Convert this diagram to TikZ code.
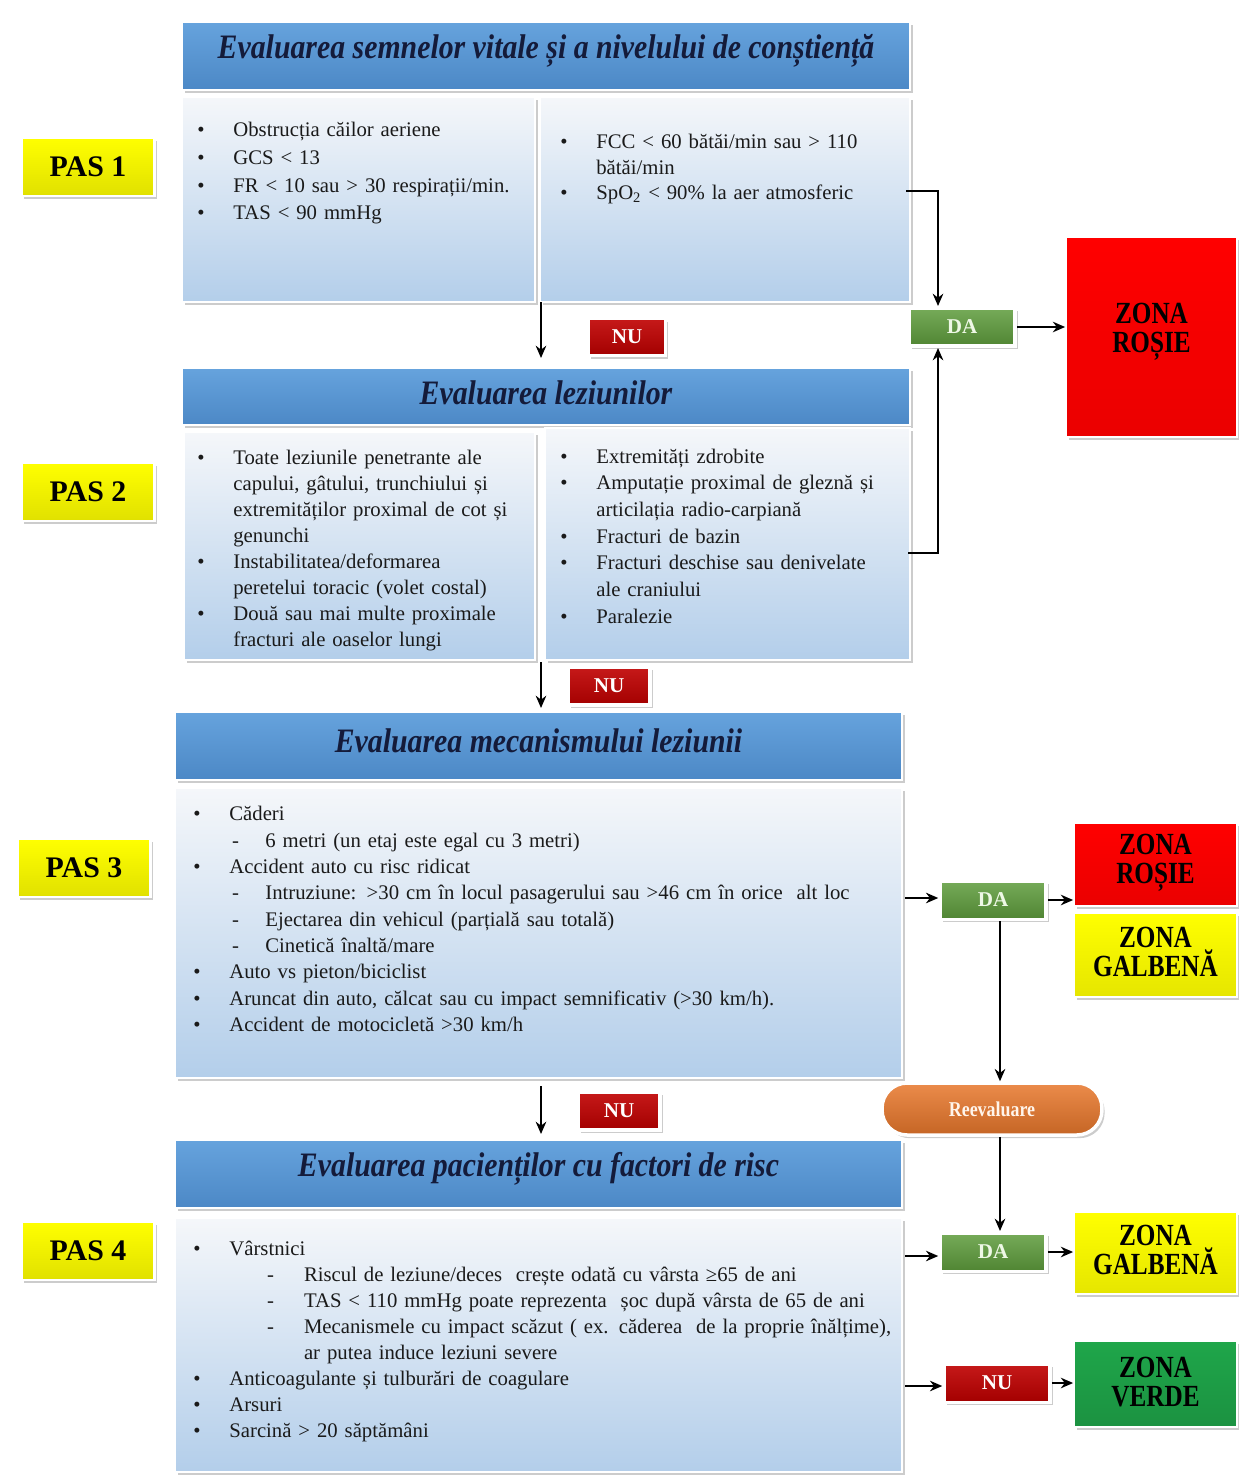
\documentclass[tikz,border=0pt]{standalone}
\usepackage{fontspec}
\setmainfont{Liberation Serif}
\usetikzlibrary{fit,shadows,arrows.meta,calc}
\definecolor{boxtop}{HTML}{F5F7FA}
\definecolor{boxbot}{HTML}{B3CEEA}
\definecolor{hdrtop}{HTML}{66A3DD}
\definecolor{hdrbot}{HTML}{4C88C6}
\definecolor{titlecol}{HTML}{141B3A}
\definecolor{bodycol}{HTML}{1A1A1A}
\definecolor{dagreen}{HTML}{5E9C3C}
\definecolor{dalight}{HTML}{EEF8E6}
\definecolor{nured}{HTML}{C00000}
\definecolor{zred}{HTML}{FF0000}
\definecolor{zyellow}{HTML}{FFFF00}
\definecolor{zgreen}{HTML}{1FA64A}
\definecolor{reevor}{HTML}{E8772B}
\newcommand{\bl}[1]{\par\noindent\hangindent=20.5pt\hangafter=1\rule{0pt}{10pt}\makebox[20.5pt][l]{\textbullet}#1}
\newcommand{\dl}[3]{\par\noindent\hangindent=#2\hangafter=1\rule{0pt}{10pt}\hspace*{#1}\makebox[\dimexpr#2-#1\relax][l]{-}#3}
\newcommand{\cz}[1]{\scalebox{0.82}[1]{#1}}
\newcommand{\czb}[1]{\raisebox{0pt}[\height][0pt]{\scalebox{0.82}[1]{#1}}}
\newcommand{\ttl}[1]{\scalebox{0.87}[1]{#1}}
\begin{document}
\begin{tikzpicture}[x=0.02cm,y=-0.02cm,
  shd/.style={drop shadow={opacity=0.4,shadow xshift=1.5pt,shadow yshift=-1.8pt}},
  lbox/.style={shd,draw=white,line width=1.5pt,top color=boxtop,bottom color=boxbot,inner sep=0pt},
  hdr/.style={shd,draw=white,line width=1.5pt,top color=hdrtop,bottom color=hdrbot,inner sep=0pt},
  htext/.style={font=\fontsize{19.5}{22}\selectfont\bfseries\itshape,text=titlecol,inner sep=0pt},
  ltext/.style={anchor=north west,inner sep=0pt,text width=18cm,align=left,font=\fontsize{11.8}{14.8}\selectfont,text=bodycol},
  pas/.style={shd,draw=white,line width=1.5pt,top color=zyellow,bottom color=zyellow!88!black,minimum width=2.66cm,minimum height=1.16cm,font=\fontsize{17}{20}\selectfont\bfseries,inner sep=0pt},
  tag/.style={shd,draw=white,line width=2pt,minimum width=2.12cm,minimum height=0.77cm,font=\fontsize{12}{14}\selectfont\bfseries,inner sep=0pt},
  da/.style={tag,top color=dagreen!85!white,bottom color=dagreen!85!black,text=dalight},
  nu/.style={tag,top color=nured!90!white,bottom color=nured!85!black,text=white},
  zone/.style={shd,draw=white,line width=1pt,inner sep=0pt},
  ztext/.style={inner sep=0pt,align=center,font=\fontsize{17.5}{16.5}\selectfont\bfseries,text=black},
  arr/.style={-{Stealth[length=7pt,width=6pt]},line width=1.1pt}]
\useasboundingbox (0,0) rectangle (1238,1478);

% ---------- PAS 1 ----------
\node[hdr,fit={(182,22)(910,90)}] (h1) {};
\node[htext] (t1) at ([yshift=3pt]h1.center) {\ttl{Evaluarea semnelor vitale și a nivelului de conștiență}};
\node[lbox,fit={(182,97)(535,302)}] (b1L) {};
\node[lbox,fit={(540,97)(910,302)}] (b1R) {};
\node[ltext,font=\fontsize{11.8}{15.7}\selectfont] (x1L) at (197,109) {%
\bl{Obstrucția căilor aeriene}
\bl{GCS < 13}
\bl{FR < 10 sau > 30 respirații/min.}
\bl{TAS < 90 mmHg}\par};
\node[ltext,font=\fontsize{11.8}{14.5}\selectfont] (x1R) at (560,123) {%
\bl{FCC < 60 bătăi/min sau > 110\newline bătăi/min}
\bl{\rule{0pt}{12pt}SpO\textsubscript{2} < 90\% la aer atmosferic}\par};
\node[pas] (p1) at (88,167) {PAS 1};

% ---------- PAS 2 ----------
\node[hdr,fit={(182,368)(910,425)}] (h2) {};
\node[htext] (t2) at ([yshift=2pt]h2.center) {\ttl{Evaluarea leziunilor}};
\node[lbox,fit={(184,432)(535,660)}] (b2L) {};
\node[lbox,fit={(545,428)(910,660)}] (b2R) {};
\node[ltext] (x2L) at (197,438) {%
\bl{Toate leziunile penetrante ale\newline capului, gâtului, trunchiului și\newline extremităților proximal de cot și\newline genunchi}
\bl{Instabilitatea/deformarea\newline peretelui toracic (volet costal)}
\bl{Două sau mai multe proximale\newline fracturi ale oaselor lungi}\par};
\node[ltext,font=\fontsize{11.8}{15.2}\selectfont] (x2R) at (560,436) {%
\bl{Extremități zdrobite}
\bl{Amputație proximal de gleznă și\newline articilația radio-carpiană}
\bl{Fracturi de bazin}
\bl{Fracturi deschise sau denivelate\newline ale craniului}
\bl{Paralezie}\par};
\node[pas] (p2) at (88,492) {PAS 2};

% ---------- PAS 3 ----------
\node[hdr,fit={(175,712)(902,780)}] (h3) {};
\node[htext] (t3) at ([yshift=3pt]h3.center) {\ttl{Evaluarea mecanismului leziunii}};
\node[lbox,fit={(175,788)(902,1078)}] (b3) {};
\node[ltext,font=\fontsize{11.8}{15}\selectfont] (x3) at (193,794) {%
\bl{Căderi}
\dl{22pt}{41pt}{6 metri (un etaj este egal cu 3 metri)}
\bl{Accident auto cu risc ridicat}
\dl{22pt}{41pt}{Intruziune: >30 cm în locul pasagerului sau >46 cm în orice\ \ alt loc}
\dl{22pt}{41pt}{Ejectarea\ din vehicul (parțială sau totală)}
\dl{22pt}{41pt}{Cinetică înaltă/mare}
\bl{Auto vs pieton/biciclist}
\bl{Aruncat din auto, călcat sau cu impact semnificativ (>30 km/h).}
\bl{Accident de motocicletă >30 km/h}\par};
\node[pas] (p3) at (84,868) {PAS 3};

% ---------- PAS 4 ----------
\node[hdr,fit={(175,1140)(902,1208)}] (h4) {};
\node[htext] (t4) at ([yshift=3pt]h4.center) {\ttl{Evaluarea pacienților cu factori de risc}};
\node[lbox,fit={(175,1218)(902,1472)}] (b4) {};
\node[ltext] (x4) at (193,1229) {%
\bl{Vârstnici}
\dl{42pt}{63pt}{Riscul de leziune/deces\ \ crește odată cu vârsta ≥65 de ani}
\dl{42pt}{63pt}{TAS < 110 mmHg poate reprezenta\ \ șoc după vârsta de 65 de ani}
\dl{42pt}{63pt}{Mecanismele cu impact scăzut ( ex. căderea\ \ de la proprie înălțime),\newline ar putea induce leziuni severe}
\bl{Anticoagulante și tulburări de coagulare}
\bl{Arsuri}
\bl{Sarcină > 20 săptămâni}\par};
\node[pas] (p4) at (88,1251) {PAS 4};

% ---------- decision tags ----------
\node[nu,minimum width=1.54cm,minimum height=0.74cm] (nu1) at (627,337) {NU};
\node[nu,minimum width=1.64cm,minimum height=0.76cm] (nu2) at (609,686) {NU};
\node[nu,minimum width=1.64cm,minimum height=0.76cm] (nu3) at (619,1111) {NU};
\node[da] (da1) at (962,327) {DA};
\node[da] (da3) at (993,900) {DA};
\node[da] (da4) at (993,1252) {DA};
\node[nu] (nu4) at (997,1383) {NU};
\node[shd,draw=white,line width=2pt,rounded corners=0.5cm,top color=reevor!85!white,bottom color=reevor!85!black,text=white!92!orange,minimum width=4.4cm,minimum height=1.04cm,font=\fontsize{12}{14}\selectfont\bfseries,inner sep=0pt] (reev) at (992,1109) {\scalebox{0.85}[1]{Reevaluare}};

% ---------- zones ----------
\node[zone,top color=zred,bottom color=zred!92!black,fit={(1066,237)(1237,437)}] (zr1) {};
\node[ztext] (zr1t) at ([yshift=5pt]zr1.center) {\cz{ZONA}\\\czb{ROȘIE}};
\node[zone,top color=zred,bottom color=zred!92!black,fit={(1074,823)(1237,906)}] (zr3) {};
\node[ztext] (zr3t) at ([yshift=3.5pt]zr3.center) {\cz{ZONA}\\\czb{ROȘIE}};
\node[zone,top color=zyellow,bottom color=zyellow!90!black,fit={(1074,913)(1237,997)}] (zg3) {};
\node[ztext] (zg3t) at ([yshift=2pt]zg3.center) {\cz{ZONA}\\\czb{GALBENĂ}};
\node[zone,top color=zyellow,bottom color=zyellow!90!black,fit={(1074,1212)(1237,1294)}] (zg4) {};
\node[ztext] (zg4t) at ([yshift=2pt]zg4.center) {\cz{ZONA}\\\czb{GALBENĂ}};
\node[zone,top color=zgreen,bottom color=zgreen!88!black,fit={(1074,1341)(1237,1427)}] (zv4) {};
\node[ztext] (zv4t) at ([yshift=1pt]zv4.center) {\cz{ZONA}\\\czb{VERDE}};

% ---------- connector ends ----------
\coordinate (a1s) at (541,302);
\coordinate (a1e) at (541,358);
\coordinate (a2s) at (541,662);
\coordinate (a2e) at (541,708);
\coordinate (a3s) at (541,1086);
\coordinate (a3e) at (541,1134);
\coordinate (r1s) at (906,191);
\coordinate (r2s) at (908,553);
\coordinate (r1x) at (938,0);
\coordinate (r3s) at (905,898);
\coordinate (r4s) at (905,1256);
\coordinate (r5s) at (905,1386);
\coordinate (vx) at (1000,0);

% ---------- connectors ----------
\draw[arr] (a1s) -- (a1e);
\draw[arr] (a2s) -- (a2e);
\draw[arr] (a3s) -- (a3e);
\draw[arr] (r1s) -| (r1x |- da1.north);
\draw[arr] (r2s) -| (r1x |- da1.south);
\draw[arr] (da1.east) -- (zr1.west |- da1.east);
\draw[arr] (r3s) -- (r3s -| da3.west);
\draw[arr] (da3.east) -- (zr3.west |- da3.east);
\draw[arr] (vx |- da3.south) -- (vx |- reev.north);
\draw[arr] (vx |- reev.south) -- (vx |- da4.north);
\draw[arr] (r4s) -- (r4s -| da4.west);
\draw[arr] (da4.east) -- (zg4.west |- da4.east);
\draw[arr] (r5s) -- (r5s -| nu4.west);
\draw[arr] (nu4.east) -- (zv4.west |- nu4.east);
\end{tikzpicture}
\end{document}
